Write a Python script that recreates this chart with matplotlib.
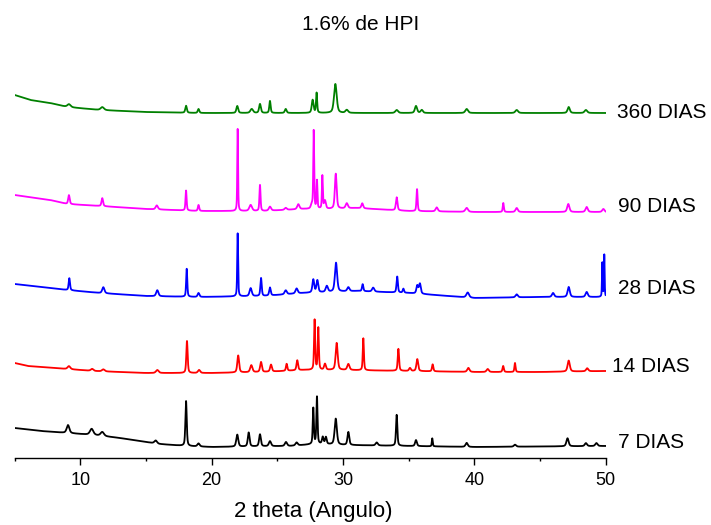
import matplotlib.pyplot as plt
import numpy as np

plt.rcParams['font.family'] = ['Liberation Sans', 'DejaVu Sans']

# 2-theta range of the scans
x_min, x_max = 5, 50

# Baselines (offset included) for each sample
base_x_7 = [5, 7, 9, 11, 13, 14.5, 16, 18, 20, 26, 28, 30, 35, 40, 50]
base_y_7 = [30, 27, 25, 23, 20, 17, 14, 12, 11, 12, 14, 13, 12, 11, 12]
base_x_14 = [5, 6, 8, 11, 15, 20, 24, 27, 30, 35, 40, 45, 50]
base_y_14 = [95, 92, 90, 87, 85, 85, 86, 88, 88, 87, 86, 86, 87]
base_x_28 = [5, 7, 9, 11.5, 15, 19, 24, 27, 29, 31, 35, 40, 45, 50]
base_y_28 = [174, 171, 168, 165, 162, 161, 162, 165, 166, 167, 165, 160, 161, 161]
base_x_90 = [5, 7.7, 9, 11.5, 15, 19, 24, 27, 29, 31, 35, 40, 45, 50]
base_y_90 = [263, 258, 254, 252, 249, 247, 247, 249, 249, 250, 247, 246, 246, 246]
base_x_360 = [5, 6.2, 7.7, 9, 11.5, 15, 19, 25, 30, 40, 50]
base_y_360 = [363, 358, 355, 351, 348, 346, 345, 345, 345, 345, 345]

# Reflections: position (2theta), height above baseline, half width
pos_7 = [9.06, 10.86, 11.67, 15.74, 18.05, 19.0, 21.95, 22.82, 23.68, 24.44, 25.66, 26.47,
         27.74, 28.02, 28.46, 28.7, 29.45, 30.41, 32.57, 34.09, 35.56, 36.8, 39.42, 43.1,
         47.1, 48.5, 49.3]
amp_7 = [8, 6, 4, 3, 45, 3, 12, 14, 12, 5, 4, 3,
         36, 47, 7, 7, 26, 13, 3, 31, 6, 8, 4, 2,
         8, 3, 3]
wid_7 = [0.12, 0.15, 0.15, 0.12, 0.06, 0.1, 0.09, 0.08, 0.08, 0.1, 0.1, 0.1,
         0.05, 0.05, 0.07, 0.07, 0.1, 0.08, 0.1, 0.06, 0.08, 0.04, 0.1, 0.1,
         0.1, 0.1, 0.1]

pos_14 = [9.13, 10.9, 11.75, 15.86, 18.12, 19.04, 22.02, 23.02, 23.76, 24.52, 25.71, 26.52,
          27.84, 28.12, 28.63, 29.52, 30.41, 31.55, 34.22, 35.1, 35.66, 36.83, 39.55, 41.02,
          42.2, 43.1, 47.19, 48.6]
amp_14 = [3, 2, 2, 3, 32, 3, 17, 7, 10, 7, 7, 10,
          50, 42, 6, 27, 6, 32, 22, 3, 12, 7, 4, 3,
          6, 9, 11, 3]
wid_14 = [0.12, 0.12, 0.12, 0.12, 0.06, 0.1, 0.08, 0.1, 0.08, 0.08, 0.06, 0.07,
          0.05, 0.05, 0.08, 0.09, 0.1, 0.05, 0.06, 0.08, 0.08, 0.06, 0.1, 0.1,
          0.06, 0.05, 0.1, 0.1]

pos_28 = [9.16, 11.75, 15.86, 18.1, 19.0, 21.98, 22.97, 23.76, 24.44, 25.64, 26.47, 27.74,
          28.05, 28.77, 29.47, 30.41, 31.5, 32.3, 34.13, 34.6, 35.66, 35.86, 39.5, 43.23,
          46.0, 47.19, 48.56, 49.75, 49.9]
amp_28 = [12, 6, 6, 28, 4, 63, 8, 18, 8, 4, 5, 13,
          12, 6, 29, 4, 7, 4, 16, 4, 8, 10, 5, 3,
          4, 10, 5, 34, 42]
wid_28 = [0.06, 0.1, 0.1, 0.05, 0.08, 0.04, 0.1, 0.06, 0.07, 0.1, 0.1, 0.08,
          0.08, 0.1, 0.1, 0.1, 0.06, 0.1, 0.06, 0.06, 0.08, 0.08, 0.12, 0.1,
          0.1, 0.1, 0.1, 0.03, 0.03]

pos_90 = [9.13, 11.67, 15.82, 18.05, 19.0, 21.98, 22.97, 23.68, 24.44, 25.64, 26.6, 27.62,
          27.77, 28.02, 28.43, 28.63, 29.45, 30.29, 31.47, 34.09, 35.64, 37.14, 39.42, 42.21,
          43.23, 47.16, 48.56, 49.83]
amp_90 = [9, 8, 4, 20, 6, 82, 6, 26, 4, 2, 5, 4,
          78, 28, 33, 8, 35, 5, 5, 13, 22, 4, 4, 9,
          4, 8, 5, 3]
wid_90 = [0.07, 0.07, 0.1, 0.05, 0.06, 0.035, 0.12, 0.05, 0.1, 0.1, 0.1, 0.08,
          0.04, 0.04, 0.04, 0.08, 0.08, 0.1, 0.08, 0.07, 0.05, 0.1, 0.12, 0.05,
          0.1, 0.1, 0.1, 0.1]

pos_360 = [9.13, 11.67, 18.05, 19.0, 21.95, 23.05, 23.68, 24.44, 25.64, 27.69, 27.99, 29.42,
           30.29, 34.09, 35.56, 36.0, 39.42, 43.23, 47.19, 48.5]
amp_360 = [3, 3, 7, 4, 7, 4, 9, 12, 4, 13, 20, 29,
           3, 3, 7, 3, 4, 3, 6, 3]
wid_360 = [0.15, 0.15, 0.07, 0.07, 0.08, 0.12, 0.08, 0.06, 0.08, 0.08, 0.05, 0.12,
           0.12, 0.12, 0.1, 0.1, 0.12, 0.12, 0.1, 0.12]

labels = ['7 DIAS', '14 DIAS', '28 DIAS', '90 DIAS', '360 DIAS']
colors = ['black', '#ff0000', '#0000ff', '#ff00ff', '#008000']
label_x = [50.92, 50.45, 50.98, 50.92, 50.87]
label_y = [15, 92, 169, 251, 345]

series = [
    (base_x_7, base_y_7, pos_7, amp_7, wid_7),
    (base_x_14, base_y_14, pos_14, amp_14, wid_14),
    (base_x_28, base_y_28, pos_28, amp_28, wid_28),
    (base_x_90, base_y_90, pos_90, amp_90, wid_90),
    (base_x_360, base_y_360, pos_360, amp_360, wid_360),
]


def pattern(two_theta, bx, by, pos, amp, wid):
    # baseline plus pseudo-Voigt reflections
    y = np.interp(two_theta, bx, by)
    for p, a, w in zip(pos, amp, wid):
        d = (two_theta - p) / w
        y = y + a * (0.5 / (1 + d ** 2) + 0.5 * np.exp(-np.log(2) * d ** 2))
    return y


tt = np.arange(x_min, x_max + 0.001, 0.01)

fig = plt.figure(figsize=(7.11, 5.25), dpi=100)
ax = fig.add_axes([14.7 / 711, 67 / 525, 590.9 / 711, 400 / 525])

for (bx, by, pos, amp, wid), c, lab, lx, ly in zip(series, colors, labels, label_x, label_y):
    ax.plot(tt, pattern(tt, bx, by, pos, amp, wid), color=c, lw=1.3)
    ax.text(lx, ly, lab, fontsize=15, va='center', ha='left', clip_on=False)

ax.set_xlim(x_min, x_max)
ax.set_ylim(0, 400)
for s in ['left', 'right', 'top']:
    ax.spines[s].set_visible(False)
ax.spines['bottom'].set_linewidth(1.0)
ax.set_yticks([])
ax.set_xticks([10, 20, 30, 40, 50])
ax.set_xticks([5, 15, 25, 35, 45], minor=True)
ax.tick_params(axis='x', which='major', direction='out', length=5, width=1.0,
               labelsize=13, pad=5)
ax.tick_params(axis='x', which='minor', direction='out', length=2.5, width=1.0)

fig.text(361 / 711, 1 - 24 / 525, '1.6% de HPI', fontsize=15, ha='center', va='center')
fig.text(313 / 711, 1 - 512 / 525, '2 theta (Angulo)', fontsize=16, ha='center', va='center')

fig.savefig('out.png', dpi=100)
